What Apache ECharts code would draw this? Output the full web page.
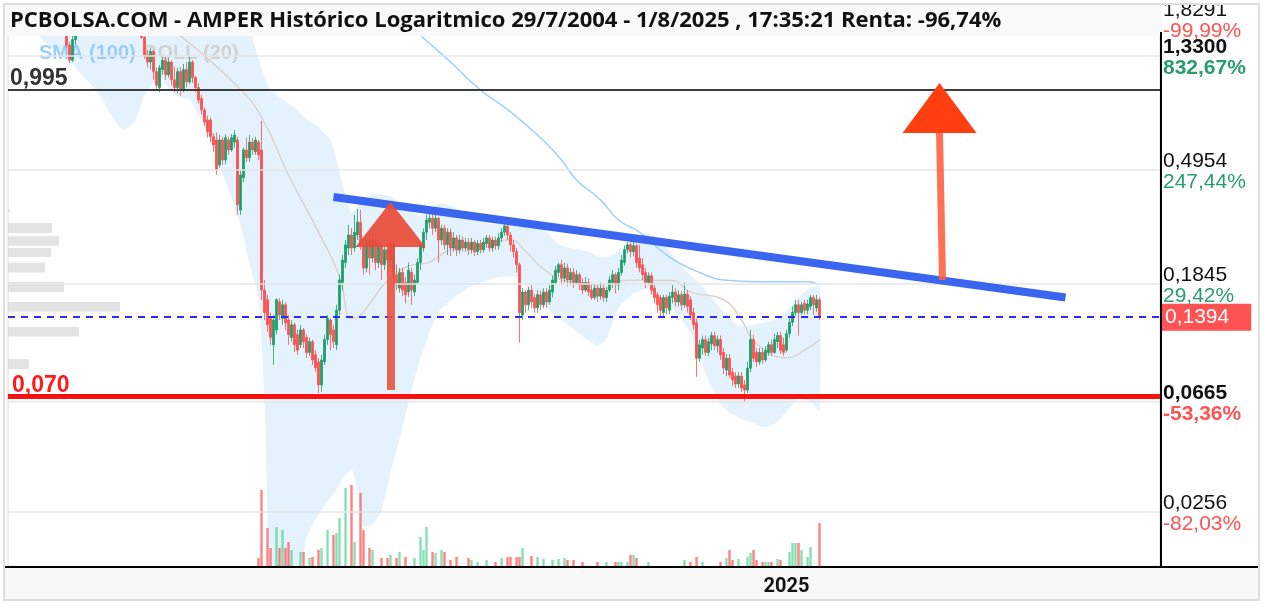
<!DOCTYPE html>
<html><head><meta charset="utf-8">
<script src="https://cdn.jsdelivr.net/npm/echarts@6/dist/echarts.min.js"></script>
<style>html,body{margin:0;padding:0;background:#fff;}#c{width:1264px;height:608px;}</style>
</head><body><div id="c"></div>
<script>
const titleText = 'PCBOLSA.COM - AMPER Histórico Logaritmico 29/7/2004 - 1/8/2025 , 17:35:21 Renta: -96,74%';
const slotCount = 384;
const firstCandleSlot = 19;
const yearSlot = 259;
const yearLabel = '2025';
const yMin = 0.01592, yMax = 1.8291;

// candles: [open, close, low, high], one per slot starting at firstCandleSlot
const candles = [
[1.67,1.46,1.42,1.74],[1.46,1.28,1.25,1.50],[1.28,1.53,1.26,1.59],[1.53,1.74,1.46,1.90],
[1.74,1.95,1.70,2.05],[1.95,2.20,1.90,2.30],[2.20,2.05,1.98,2.35],[2.05,2.40,2.00,2.50],[2.40,2.60,2.30,2.80],[2.60,2.30,2.20,2.70],[2.30,2.10,2.00,2.40],[2.10,2.35,2.05,2.45],[2.35,2.20,2.10,2.50],[2.20,2.00,1.90,2.30],[2.00,2.15,1.92,2.25],[2.15,1.95,1.85,2.20],[1.95,2.10,1.90,2.20],[2.10,1.98,1.90,2.20],[1.98,1.85,1.78,2.05],[1.85,2.00,1.80,2.10],[2.00,1.88,1.80,2.05],[1.88,1.80,1.72,1.95],[1.80,1.92,1.75,2.00],[1.92,1.78,1.70,1.98],[1.78,1.66,1.62,1.84],
[1.62,1.56,1.54,1.72],[1.56,1.34,1.30,1.62],[1.34,1.26,1.20,1.40],[1.26,1.38,1.18,1.43],[1.38,1.16,1.08,1.40],[1.16,1.03,1.00,1.20],
[1.01,1.20,0.97,1.23],[1.18,1.28,1.13,1.34],[1.28,1.13,1.08,1.33],[1.13,1.26,1.10,1.31],[1.26,1.08,1.03,1.28],[1.08,1.01,0.97,1.21],
[1.01,1.16,0.96,1.20],[1.16,0.99,0.94,1.21],[0.99,1.18,0.97,1.24],[1.18,1.06,1.01,1.26],
[1.06,1.26,1.04,1.32],[1.26,1.10,1.05,1.28],[1.10,1.01,0.97,1.12],[1.01,0.907,0.88,1.05],[0.92,0.832,0.80,0.95],[0.832,0.75,0.725,0.85],[0.763,0.69,0.655,0.79],[0.763,0.66,0.63,0.78],[0.66,0.615,0.58,0.68],[0.642,0.4954,0.474,0.685],
[0.517,0.642,0.504,0.67],[0.642,0.540,0.517,0.66],[0.540,0.655,0.52,0.675],[0.642,0.589,0.564,0.66],[0.589,0.655,0.58,0.675],[0.63,0.67,0.60,0.70],[0.642,0.366,0.336,0.66],[0.350,0.474,0.336,0.4954],[0.463,0.589,0.445,0.60],[0.589,0.55,0.53,0.655],
[0.55,0.63,0.53,0.67],[0.63,0.589,0.564,0.655],[0.58,0.642,0.564,0.66],[0.63,0.564,0.54,0.642],[0.589,0.175,0.161,0.757],
[0.175,0.144,0.135,0.191],[0.161,0.1295,0.122,0.168],[0.137,0.116,0.109,0.144],[0.109,0.135,0.0916,0.141],[0.124,0.161,0.119,0.163],[0.158,0.141,0.135,0.163],[0.137,0.154,0.1295,0.161],[0.154,0.132,0.124,0.158],[0.135,0.119,0.109,0.141],[0.116,0.1295,0.112,0.135],
[0.1295,0.109,0.1025,0.132],[0.119,0.104,0.0999,0.124],[0.109,0.124,0.106,0.1295],[0.124,0.112,0.106,0.126],[0.116,0.102,0.0973,0.119],[0.102,0.112,0.099,0.116],[0.112,0.0956,0.0916,0.114],[0.0999,0.0892,0.086,0.104],[0.094,0.077,0.0718,0.0973],[0.077,0.0956,0.0724,0.0999],
[0.094,0.114,0.0916,0.119],[0.114,0.137,0.109,0.141],[0.135,0.119,0.104,0.137],[0.124,0.112,0.106,0.1295],[0.109,0.147,0.104,0.154],[0.147,0.191,0.141,0.200],[0.187,0.227,0.175,0.237],[0.222,0.259,0.212,0.270],[0.252,0.282,0.237,0.308],[0.282,0.252,0.237,0.299],
[0.252,0.289,0.244,0.336],[0.282,0.315,0.270,0.353],[0.315,0.259,0.248,0.350],[0.259,0.212,0.200,0.275],[0.212,0.270,0.204,0.282],[0.270,0.231,0.200,0.287],[0.231,0.270,0.222,0.287],[0.265,0.222,0.208,0.275],[0.222,0.259,0.212,0.270],[0.259,0.218,0.191,0.265],
[0.218,0.248,0.208,0.259],[0.248,0.227,0.200,0.259],[0.227,0.259,0.212,0.265],[0.259,0.200,0.187,0.270],[0.200,0.183,0.175,0.218],[0.178,0.204,0.171,0.212],[0.204,0.175,0.166,0.212],[0.187,0.168,0.156,0.196],[0.172,0.208,0.165,0.222],[0.204,0.175,0.154,0.212],
[0.172,0.191,0.166,0.200],[0.187,0.222,0.183,0.231],[0.222,0.259,0.208,0.265],[0.252,0.289,0.244,0.299],[0.289,0.321,0.270,0.336],[0.315,0.326,0.299,0.343],[0.326,0.299,0.282,0.339],[0.299,0.326,0.289,0.339],[0.326,0.270,0.222,0.330],[0.270,0.299,0.259,0.308],
[0.299,0.259,0.248,0.308],[0.259,0.289,0.237,0.299],[0.289,0.252,0.235,0.299],[0.252,0.275,0.244,0.289],[0.275,0.248,0.235,0.282],[0.248,0.270,0.240,0.282],[0.270,0.252,0.244,0.278],[0.252,0.265,0.244,0.275],[0.265,0.248,0.237,0.275],[0.248,0.265,0.240,0.275],
[0.265,0.244,0.235,0.270],[0.244,0.262,0.237,0.270],[0.262,0.248,0.240,0.270],[0.248,0.265,0.242,0.275],[0.262,0.275,0.252,0.282],[0.275,0.252,0.244,0.282],[0.252,0.270,0.244,0.278],[0.270,0.257,0.248,0.278],[0.257,0.275,0.248,0.285],[0.275,0.289,0.265,0.299],
[0.289,0.305,0.280,0.315],[0.305,0.282,0.270,0.311],[0.282,0.259,0.244,0.289],[0.259,0.244,0.232,0.270],[0.244,0.218,0.204,0.252],[0.218,0.144,0.111,0.222],[0.141,0.172,0.135,0.178],[0.172,0.154,0.144,0.175],[0.154,0.175,0.147,0.180],[0.175,0.158,0.150,0.183],
[0.164,0.150,0.144,0.169],[0.150,0.168,0.144,0.175],[0.168,0.154,0.147,0.175],[0.154,0.172,0.150,0.178],[0.172,0.158,0.150,0.178],[0.158,0.175,0.154,0.183],[0.172,0.191,0.164,0.198],[0.187,0.208,0.183,0.216],[0.204,0.218,0.196,0.222],[0.218,0.194,0.185,0.227],
[0.194,0.212,0.187,0.222],[0.212,0.191,0.181,0.220],[0.191,0.204,0.183,0.212],[0.204,0.187,0.178,0.212],[0.187,0.200,0.183,0.208],[0.200,0.183,0.175,0.204],[0.187,0.175,0.169,0.194],[0.175,0.187,0.172,0.196],[0.187,0.172,0.166,0.194],[0.175,0.164,0.161,0.183],
[0.164,0.178,0.161,0.185],[0.178,0.166,0.158,0.183],[0.166,0.178,0.161,0.187],[0.178,0.164,0.158,0.185],[0.164,0.175,0.158,0.180],[0.175,0.191,0.172,0.198],[0.187,0.200,0.178,0.208],[0.200,0.183,0.170,0.204],[0.183,0.204,0.175,0.212],[0.204,0.227,0.198,0.237],
[0.222,0.248,0.216,0.257],[0.248,0.259,0.240,0.265],[0.259,0.244,0.232,0.265],[0.244,0.257,0.235,0.265],[0.257,0.222,0.212,0.262],[0.231,0.212,0.204,0.259],[0.218,0.200,0.191,0.231],[0.204,0.187,0.178,0.212],[0.187,0.198,0.183,0.204],[0.198,0.175,0.168,0.204],
[0.178,0.164,0.156,0.185],[0.168,0.154,0.144,0.172],[0.164,0.147,0.139,0.168],[0.144,0.164,0.140,0.168],[0.164,0.150,0.142,0.168],[0.147,0.166,0.142,0.172],[0.164,0.172,0.156,0.183],[0.172,0.158,0.152,0.178],[0.158,0.168,0.152,0.175],[0.168,0.154,0.147,0.174],
[0.154,0.169,0.150,0.187],[0.169,0.152,0.144,0.175],[0.161,0.141,0.135,0.166],[0.144,0.1295,0.124,0.150],[0.132,0.097,0.0826,0.137],[0.097,0.109,0.094,0.114],[0.106,0.114,0.0999,0.118],[0.114,0.102,0.099,0.118],[0.102,0.112,0.099,0.116],[0.110,0.118,0.104,0.122],
[0.118,0.108,0.104,0.122],[0.108,0.114,0.102,0.118],[0.114,0.0999,0.0956,0.118],[0.102,0.0892,0.0845,0.106],[0.0876,0.097,0.083,0.1007],[0.097,0.0839,0.0818,0.1007],[0.086,0.0804,0.0763,0.089],[0.0832,0.0777,0.075,0.086],[0.0777,0.0832,0.075,0.086],[0.0832,0.075,0.0724,0.086],
[0.077,0.0737,0.066,0.0804],[0.0737,0.089,0.0718,0.094],[0.089,0.114,0.086,0.124],[0.114,0.097,0.094,0.119],[0.102,0.094,0.090,0.106],[0.094,0.102,0.0916,0.106],[0.102,0.0956,0.0924,0.106],[0.0956,0.104,0.094,0.108],[0.102,0.109,0.0991,0.112],[0.109,0.102,0.0991,0.114],
[0.102,0.114,0.1007,0.120],[0.112,0.118,0.106,0.122],[0.118,0.104,0.1007,0.122],[0.109,0.102,0.0991,0.116],[0.104,0.120,0.102,0.124],[0.120,0.1325,0.116,0.137],[0.1325,0.144,0.128,0.152],[0.144,0.154,0.140,0.161],[0.154,0.144,0.118,0.161],[0.144,0.154,0.141,0.158],
[0.156,0.147,0.142,0.161],[0.147,0.155,0.142,0.161],[0.152,0.164,0.147,0.168],[0.164,0.154,0.141,0.168],[0.150,0.161,0.145,0.168],[0.161,0.1394,0.135,0.165]
];

// volume bars: [slot, volume]
const volumeBars = [[83,9],[84,77],[86,39],[87,19],[89,40],[90,19],[91,37],[92,19],[93,25],[94,17],[97,15],[98,15],[100,9],[101,10],[103,17],[104,19],[106,37],[108,32],[109,34],[110,49],[112,79],[114,82],[115,25],[117,74],[118,37],[120,19],[121,17],[124,9],[126,9],[127,12],[129,9],[130,15],[132,10],[135,9],[137,30],[138,17],[139,40],[141,15],[142,14],[144,17],[145,15],[147,7],[149,10],[153,9],[154,7],[156,5],[159,7],[162,5],[164,9],[166,10],[167,10],[169,10],[170,10],[171,19],[174,11],[176,10],[178,8],[181,7],[183,8],[185,9],[186,7],[188,7],[191,5],[196,5],[199,5],[202,5],[203,5],[204,5],[206,5],[207,12],[208,12],[209,9],[213,5],[225,7],[227,5],[229,10],[231,5],[237,5],[239,9],[240,17],[241,7],[243,8],[246,10],[247,14],[248,17],[249,7],[251,5],[252,5],[253,5],[254,5],[256,8],[257,7],[260,15],[261,24],[262,24],[263,24],[264,17],[266,10],[267,20],[270,44]];

// Bollinger (20) band
const bollSlots = [10,15,20,25,30,34,38,42,45,50,55,60,63,67,70,73,77,80,83,85,87,90,95,99,103,107,109,111,114,116,118,121,124,128,130,133,136,138,143,148,153,160,165,169,171,174,178,183,188,193,196,199,203,208,213,218,223,228,233,238,243,248,251,255,259,263,267,270];
const bollUpper = [3.2,3.2,3.2,3.2,3.2,3.2,3.2,3.2,3.2,3.2,3.2,3.2, 3.0,2.8,2.6,2.4,2.0,1.7,1.3,1.1,1.0,0.93,0.85,0.77, 0.72,0.64,0.54,0.435,0.34,0.36,0.38,0.40,0.40,0.39,0.37,0.35, 0.335,0.336,0.37,0.36,0.336,0.31,0.31,0.315,0.32,0.32,0.30,0.26, 0.25,0.245,0.235,0.232,0.245,0.275,0.285,0.265,0.22,0.195,0.17,0.145, 0.128,0.1295,0.132,0.135,0.145,0.165,0.178,0.18];
const bollLower = [1.59,1.40,1.27,1.10,0.947,0.797,0.70,0.763,0.947,1.10,0.947,0.907, 0.80,0.642,0.517,0.42,0.308,0.22,0.161,0.07,0.012,0.011,0.012,0.0205, 0.025,0.029,0.031,0.034,0.037,0.031,0.0226,0.023,0.026,0.040,0.048,0.066, 0.089,0.105,0.145,0.163,0.178,0.192,0.197,0.196,0.188,0.168,0.152,0.138, 0.125,0.113,0.108,0.115,0.150,0.170,0.176,0.162,0.140,0.115,0.080,0.063, 0.058,0.0555,0.0535,0.055,0.061,0.068,0.067,0.062];
const bollMidSlots = [57,76,84,93,103,110,114,117,121,126,133,140,147,157,167,172,178,185,195,205,210,216,221,227,238,244,249,259,265,270];
const bollMid = [1.58,1.02,0.782,0.474,0.289,0.197,0.137,0.141,0.161,0.19,0.215,0.223,0.248,0.259,0.27,0.245,0.21,0.19,0.183,0.19,0.191,0.19,0.19,0.172,0.161,0.135,0.110,0.0975,0.104,0.114];
// SMA (100)
const smaSlots = [130,137,147,157,167,177,184,189,197,203,210,220,230,238,249,260,266,270];
const sma = [1.9,1.59,1.26,0.989,0.818,0.654,0.54,0.454,0.382,0.321,0.289,0.233,0.204,0.191,0.188,0.188,0.188,0.183];

// volume-at-price profile: [length, lowPrice, highPrice]
const profile = [[2,0.345,0.352],[44,0.287,0.313],[51,0.257,0.279],[43,0.233,0.252],[37,0.204,0.222],[56,0.172,0.188],[112,0.145,0.158],[71,0.117,0.127],[21,0.0884,0.0963]];

// right-hand price scale
const scaleValues = [1.8291,1.33,0.4954,0.1845,0.0665,0.0256];
const scaleTexts  = ['1,8291','1,3300','0,4954','0,1845','0,0665','0,0256'];
const scalePcts   = ['-99,99%','832,67%','247,44%','29,42%','-53,36%','-82,03%'];
const scaleBold   = [false,true,false,false,true,false];
const scaleUp     = [false,true,true,true,false,false];

// annotation levels and drawings
const resistance = 0.995, resistanceText = '0,995';
const support = 0.070, supportText = '0,070';
const lastPrice = 0.1394, lastPriceText = '0,1394';
const trendLine = [[108,0.392],[352,0.164]];
const arrow1 = {shaft:[[127,0.0737],[127,0.262]], head:[127,0.309]};
const arrow2 = {shaft:[[311,0.191],[310,0.69]], head:[310,0.846]};

const UP = '#1f9e68', DOWN = '#ff4f4f';
const categories = Array.from({length: slotCount}, (_, i) => 'p' + i);
const candleData = categories.map((_, i) => {
  const k = i - firstCandleSlot;
  return (k >= 0 && k < candles.length) ? candles[k] : '-';
});
const volumeData = volumeBars.map(([s, v]) => {
  const c = candles[s - firstCandleSlot];
  const up = c[1] >= c[0];
  return {value: [s, v], itemStyle: {color: up ? 'rgba(60,205,130,0.62)' : 'rgba(255,80,80,0.72)'}};
});

const FONT = 'Liberation Sans';
const rich = {
  v:   {fontSize: 21, color: '#111', fontFamily: FONT, lineHeight: 21},
  vb:  {fontSize: 21, color: '#111', fontFamily: FONT, lineHeight: 21, fontWeight: 'bold'},
  pg:  {fontSize: 21, color: '#2a9d6f', fontFamily: FONT, lineHeight: 21},
  pgb: {fontSize: 21, color: '#2a9d6f', fontFamily: FONT, lineHeight: 21, fontWeight: 'bold'},
  pr:  {fontSize: 21, color: '#ff5252', fontFamily: FONT, lineHeight: 21},
  prb: {fontSize: 21, color: '#ff5252', fontFamily: FONT, lineHeight: 21, fontWeight: 'bold'}
};
const scaleLines = scaleValues.map((v, i) => {
  const vt = scaleBold[i] ? 'vb' : 'v';
  const pt = (scaleUp[i] ? 'pg' : 'pr') + (scaleBold[i] ? 'b' : '');
  return {
    yAxis: v,
    lineStyle: {color: '#e6e6e6', width: 1.5, type: 'solid'},
    label: {show: true, position: 'end', distance: 3, offset: [0, 2], formatter: '{' + vt + '|' + scaleTexts[i] + '}\n{' + pt + '|' + scalePcts[i] + '}', rich: rich}
  };
});

const chart = echarts.init(document.getElementById('c'));
const gridBox = {left: 8, right: 104, top: 19, bottom: 41};
chart.setOption({
  animation: false,
  grid: [
    Object.assign({}, gridBox),
    {left: 8, right: 104, top: 467, bottom: 41},
    Object.assign({}, gridBox)
  ],
  xAxis: [
    {type: 'category', gridIndex: 0, data: categories, boundaryGap: true,
     axisLine: {show: false}, axisTick: {show: false},
     axisLabel: {interval: (i) => i === yearSlot, formatter: (v, i) => i === yearSlot ? yearLabel : '',
       fontSize: 20, fontWeight: 'bold', color: '#111', fontFamily: 'Roboto', margin: 10},
     splitLine: {show: true, interval: (i) => i === yearSlot, lineStyle: {color: '#e6e6e6', width: 1.5}}},
    {type: 'category', gridIndex: 1, data: categories, boundaryGap: true, show: false},
    {type: 'value', gridIndex: 2, min: 0, max: 1152, show: false}
  ],
  yAxis: [
    {type: 'log', gridIndex: 0, min: yMin, max: yMax, position: 'right', axisLine: {show: false}, axisTick: {show: false}, axisLabel: {show: false}, splitLine: {show: false}},
    {type: 'value', gridIndex: 1, min: 0, max: 100, show: false, splitLine: {show: false}},
    {type: 'log', gridIndex: 2, min: yMin, max: yMax, show: false, splitLine: {show: false}}
  ],
  graphic: [
    {type: 'rect', z: 0, shape: {x: 5, y: 568, width: 1253, height: 31}, style: {fill: '#f8f8f8'}},
    {type: 'text', z: 2, style: {text: 'SMA (100)', x: 39, y: 53, verticalAlign: 'middle', fill: 'rgba(144,202,249,0.9)', fontSize: 20, fontWeight: 'bold', fontFamily: FONT}},
    {type: 'text', z: 2, style: {text: 'BOLL (20)', x: 143, y: 53, verticalAlign: 'middle', fill: 'rgba(205,205,205,0.85)', fontSize: 20, fontWeight: 'bold', fontFamily: FONT}},
    {type: 'rect', z: 10, shape: {x: 5, y: 5, width: 1157, height: 31}, style: {fill: '#f9f9f9'}},
    {type: 'text', z: 11, style: {text: titleText, x: 10, y: 21, verticalAlign: 'middle', fill: '#111', fontSize: 22, fontWeight: 'bold', fontFamily: 'Open Sans'}},
    {type: 'line', z: 12, shape: {x1: 5, y1: 567, x2: 1258, y2: 567}, style: {stroke: '#000', lineWidth: 2}},
    {type: 'line', z: 12, shape: {x1: 1161, y1: 32, x2: 1161, y2: 567}, style: {stroke: '#000', lineWidth: 2}},
    {type: 'rect', z: 19, shape: {x: 0, y: 0, width: 1264, height: 4}, style: {fill: '#fff'}},
    {type: 'rect', z: 20, shape: {x: 4, y: 4, width: 1255, height: 596}, style: {fill: 'none', stroke: '#dedede', lineWidth: 2}}
  ],
  series: [
    {type: 'custom', name: 'BOLL band', xAxisIndex: 0, yAxisIndex: 0, clip: true, silent: true, z: 1,
     data: [[0, 1]],
     renderItem: (params, api) => {
       const pts = [];
       for (let i = 0; i < bollSlots.length; i++) pts.push(api.coord([bollSlots[i], bollUpper[i]]));
       for (let i = bollSlots.length - 1; i >= 0; i--) pts.push(api.coord([bollSlots[i], bollLower[i]]));
       return {type: 'polygon', shape: {points: pts, smooth: 0.2}, style: {fill: 'rgba(33,150,243,0.12)'}};
     }},
    {type: 'line', name: 'grid', xAxisIndex: 0, yAxisIndex: 0, data: [], z: 1, silent: true,
     markLine: {symbol: ['none', 'none'], silent: true, animation: false, precision: 6, data: scaleLines}},
    {type: 'custom', name: 'profile', xAxisIndex: 2, yAxisIndex: 2, clip: true, silent: true, z: 1,
     data: profile,
     renderItem: (params, api) => {
       const a = api.coord([0, api.value(2)]);
       const b = api.coord([api.value(0), api.value(1)]);
       return {type: 'rect', shape: {x: a[0], y: a[1], width: b[0] - a[0], height: b[1] - a[1]}, style: {fill: 'rgba(215,215,215,0.7)'}};
     }},
    {type: 'line', name: 'BOLL mid', xAxisIndex: 0, yAxisIndex: 0, data: bollMidSlots.map((s, i) => [s, bollMid[i]]),
     symbol: 'none', smooth: true, z: 2, silent: true, lineStyle: {color: '#dcd2cb', width: 1.5}},
    {type: 'line', name: 'SMA (100)', xAxisIndex: 0, yAxisIndex: 0, data: smaSlots.map((s, i) => [s, sma[i]]),
     symbol: 'none', smooth: true, z: 2, silent: true, lineStyle: {color: '#9fd0f7', width: 1.5}},
    {type: 'bar', name: 'Volumen', xAxisIndex: 1, yAxisIndex: 1, data: volumeData, barWidth: 2.4, z: 2, silent: true},
    {type: 'candlestick', name: 'AMPER', xAxisIndex: 0, yAxisIndex: 0, data: candleData, barWidth: 1.8, z: 3, clip: true,
     itemStyle: {color: UP, color0: DOWN, borderColor: UP, borderColor0: DOWN, borderWidth: 0.8}},
    {type: 'line', name: 'annotations', xAxisIndex: 0, yAxisIndex: 0, data: [], z: 4, silent: true,
     markLine: {symbol: ['none', 'none'], silent: true, animation: false, precision: 6, data: [
       {yAxis: resistance, lineStyle: {color: '#3d3d3d', width: 2, type: 'solid'},
        label: {show: true, position: 'insideStartTop', distance: [2, -1], formatter: resistanceText, fontSize: 23, fontWeight: 'bold', color: '#333', fontFamily: FONT}},
       {yAxis: support, lineStyle: {color: '#ff1010', width: 5, type: 'solid'},
        label: {show: true, position: 'insideStartTop', distance: [4, -1], formatter: supportText, fontSize: 23, fontWeight: 'bold', color: '#ff1a1a', fontFamily: FONT}},
       {yAxis: lastPrice, lineStyle: {color: '#2b2bf0', width: 1.8, type: [7, 6]},
        label: {show: true, position: 'end', distance: 0, offset: [0, 1], formatter: lastPriceText, color: '#fff', backgroundColor: '#ff5252', fontSize: 21, fontFamily: FONT, padding: [3, 22, 3, 5]}},
       [{coord: trendLine[0], lineStyle: {color: '#3a66ef', width: 8, type: 'solid'}, label: {show: false}}, {coord: trendLine[1]}],
       [{coord: arrow1.shaft[0], lineStyle: {color: 'rgba(232,78,58,0.88)', width: 8, type: 'solid'}, label: {show: false}}, {coord: arrow1.shaft[1]}],
       [{coord: arrow2.shaft[0], lineStyle: {color: 'rgba(255,92,62,0.88)', width: 7, type: 'solid'}, label: {show: false}}, {coord: arrow2.shaft[1]}]
     ]},
     markPoint: {silent: true, animation: false, label: {show: false}, data: [
       {coord: arrow1.head, symbol: 'triangle', symbolSize: [70, 45], itemStyle: {color: 'rgba(232,78,58,0.93)'}},
       {coord: arrow2.head, symbol: 'triangle', symbolSize: [74, 50], itemStyle: {color: '#ff3f10'}}
     ]}}
  ]
});
</script></body></html>
